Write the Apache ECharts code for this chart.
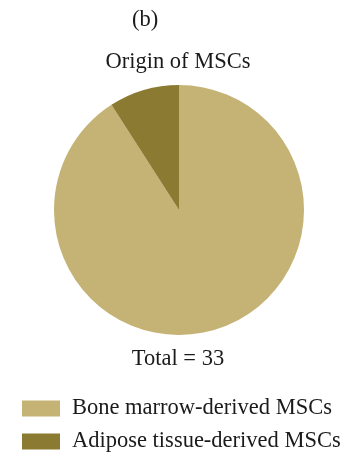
<!DOCTYPE html>
<html>
<head>
<meta charset="utf-8">
<style>
  html, body { margin: 0; padding: 0; background: #ffffff; }
  #chart { width: 359px; height: 462px; }
</style>
<script src="https://cdn.jsdelivr.net/npm/echarts@6/dist/echarts.min.js"></script>
</head>
<body>
<div id="chart"></div>
<script>
// Origin of MSCs across the included studies
const categories = ['Bone marrow-derived MSCs', 'Adipose tissue-derived MSCs'];
const counts = [30, 3];
const colors = ['#c4b374', '#8b7a32'];

const total = counts.reduce((a, b) => a + b, 0);
const FONT = '"Liberation Serif", "DejaVu Serif", serif';
const TEXT_COLOR = '#1a1a1a';

function caption(text, x, y) {
  return {
    type: 'text',
    x, y,
    style: {
      text,
      fontFamily: FONT, fontSize: 22.5, fill: TEXT_COLOR,
      align: 'center', verticalAlign: 'middle'
    }
  };
}

const chart = echarts.init(document.getElementById('chart'), null, { renderer: 'canvas' });
chart.setOption({
  animation: false,
  backgroundColor: '#ffffff',
  graphic: [
    caption('(b)', 145, 20),
    caption('Origin of MSCs', 178, 62),
    caption('Total = ' + total, 178, 359)
  ],
  legend: {
    orient: 'vertical',
    left: 17, top: 392,
    itemWidth: 38, itemHeight: 16, itemGap: 10,
    icon: 'rect',
    selectedMode: false,
    textStyle: { fontFamily: FONT, fontSize: 22.5, lineHeight: 22, color: TEXT_COLOR, padding: [0, 0, 0, 7] },
    data: categories
  },
  series: [{
    type: 'pie',
    center: [179, 210],
    radius: [0, 125],
    startAngle: 90,
    clockwise: true,
    label: { show: false },
    labelLine: { show: false },
    emphasis: { disabled: true },
    itemStyle: { borderWidth: 0 },
    data: categories.map((name, i) => ({
      name, value: counts[i], itemStyle: { color: colors[i] }
    }))
  }]
});
</script>
</body>
</html>
